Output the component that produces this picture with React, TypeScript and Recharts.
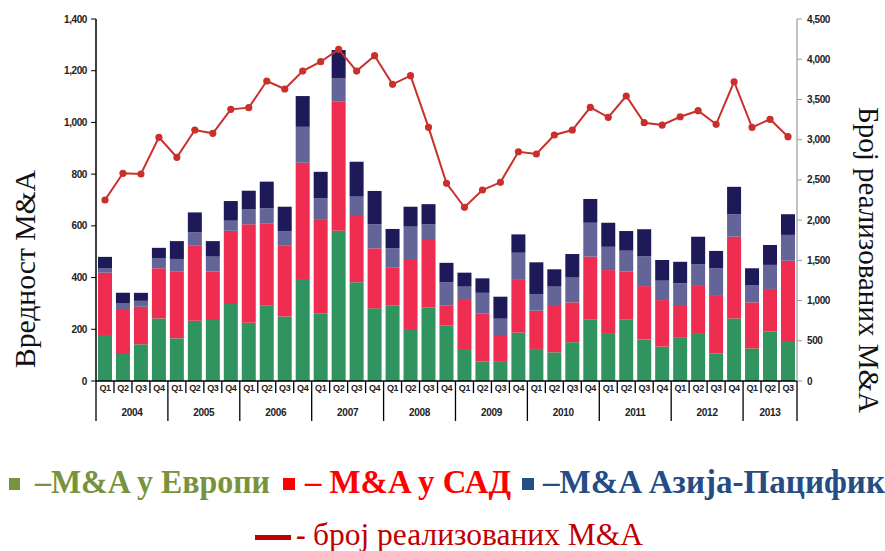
import React from "react";
import { Bar, ComposedChart, Line, XAxis, YAxis } from "recharts";

// 2004 Q1 .. 2013 Q3
const years = [
  "2004", "2004", "2004", "2004",
  "2005", "2005", "2005", "2005",
  "2006", "2006", "2006", "2006",
  "2007", "2007", "2007", "2007",
  "2008", "2008", "2008", "2008",
  "2009", "2009", "2009", "2009",
  "2010", "2010", "2010", "2010",
  "2011", "2011", "2011", "2011",
  "2012", "2012", "2012", "2012",
  "2013", "2013", "2013",
];
const quarters = [
  "Q1", "Q2", "Q3", "Q4", "Q1", "Q2", "Q3", "Q4", "Q1", "Q2", "Q3", "Q4",
  "Q1", "Q2", "Q3", "Q4", "Q1", "Q2", "Q3", "Q4", "Q1", "Q2", "Q3", "Q4",
  "Q1", "Q2", "Q3", "Q4", "Q1", "Q2", "Q3", "Q4", "Q1", "Q2", "Q3", "Q4",
  "Q1", "Q2", "Q3",
];

const europe = [
  178, 104, 142, 242, 165, 233, 236, 298, 225, 291, 249, 394, 262, 581, 382, 281,
  293, 201, 285, 214, 120, 75, 77, 187, 124, 111, 150, 239, 182, 239, 161, 133,
  167, 182, 107, 242, 126, 191, 155,
];
const usa = [
  241, 171, 145, 194, 258, 290, 187, 283, 381, 319, 274, 450, 361, 499, 256, 232,
  145, 267, 264, 79, 197, 187, 97, 204, 148, 179, 154, 242, 247, 184, 206, 180,
  127, 189, 222, 316, 178, 165, 310,
];
const other = [
  18, 25, 23, 38, 49, 52, 58, 39, 59, 58, 57, 139, 84, 90, 75, 93,
  75, 129, 57, 89, 48, 79, 67, 105, 64, 75, 96, 131, 90, 81, 116, 75,
  84, 80, 107, 87, 67, 93, 100,
];
const asiaPacific = [
  43, 41, 31, 41, 69, 77, 60, 76, 71, 103, 94, 119, 102, 110, 135, 129,
  75, 77, 78, 75, 54, 56, 85, 71, 123, 67, 91, 92, 93, 76, 104, 80,
  83, 107, 67, 106, 65, 77, 80,
];
const dealCount = [
  2250, 2582, 2573, 3029, 2781, 3120, 3079, 3377, 3398, 3729, 3630, 3853, 3969, 4123, 3853, 4044,
  3688, 3795, 3153, 2457, 2159, 2374, 2470, 2850, 2822, 3058, 3120, 3402, 3278, 3543, 3211, 3182,
  3285, 3360, 3191, 3720, 3153, 3253, 3037,
];

const leftTicks = [0, 200, 400, 600, 800, 1000, 1200, 1400];
const rightTicks = [0, 500, 1000, 1500, 2000, 2500, 3000, 3500, 4000, 4500];

const data = quarters.map((q, i) => ({
  key: `${years[i]} ${q}`,
  q,
  year: years[i],
  europe: europe[i],
  usa: usa[i],
  other: other[i],
  asiaPacific: asiaPacific[i],
  count: dealCount[i],
}));

const PLOT_W = 701;
const BAND = PLOT_W / data.length;

const fmt = (v: number) => v.toLocaleString("en-US");

const QuarterTick = (props: any) => {
  const { x, y, index } = props;
  const d = data[index];
  const left = x - BAND / 2;
  const first = data.findIndex((r) => r.year === d.year);
  const count = data.filter((r) => r.year === d.year).length;
  const yearX = x + ((count - 1) / 2) * BAND;
  const isLast = index === data.length - 1;
  return (
    <g>
      <line
        x1={left}
        x2={left}
        y1={y}
        y2={d.q === "Q1" ? y + 40 : y + 12}
        stroke="#000"
        strokeWidth={1.3}
      />
      {isLast && (
        <line x1={x + BAND / 2} x2={x + BAND / 2} y1={y} y2={y + 40} stroke="#000" strokeWidth={1.3} />
      )}
      <text
        x={x}
        y={y + 9.5}
        textAnchor="middle"
        fontFamily="Liberation Sans, Arial, sans-serif"
        fontWeight="bold"
        fontSize={9}
        letterSpacing={-0.4}
        fill="#222"
      >
        {d.q}
      </text>
      {index === first && (
        <text
          x={yearX}
          y={y + 35}
          textAnchor="middle"
          fontFamily="Liberation Sans, Arial, sans-serif"
          fontWeight="bold"
          fontSize={10}
          letterSpacing={-0.3}
          fill="#222"
        >
          {d.year}
        </text>
      )}
    </g>
  );
};

const tickStyle = {
  fontFamily: "Liberation Sans, Arial, sans-serif",
  fontWeight: "bold" as const,
  fontSize: 10,
  letterSpacing: -0.4,
  fill: "#222",
};

const serif = "Liberation Serif, 'Times New Roman', serif";

const App = () => {
  return (
    <div
      style={{
        position: "absolute",
        left: 0,
        top: 0,
        width: 885,
        height: 551,
        background: "#fff",
        overflow: "hidden",
      }}
    >
      <ComposedChart
        width={885}
        height={430}
        data={data}
        margin={{ top: 19, right: 28, left: 36, bottom: 0 }}
        barCategoryGap="11%"
      >
        <XAxis
          dataKey="key"
          interval={0}
          tickSize={0}
          tickMargin={0}
          height={49}
          tick={<QuarterTick />}
          tickLine={false}
          axisLine={{ stroke: "#000", strokeWidth: 1.5 }}
        />
        <YAxis
          yAxisId="left"
          width={60}
          domain={[0, 1400]}
          ticks={leftTicks}
          tickFormatter={fmt}
          tickSize={5}
          tickMargin={4}
          tick={tickStyle}
          tickLine={{ stroke: "#000" }}
          axisLine={{ stroke: "#000", strokeWidth: 1.5 }}
        />
        <YAxis
          yAxisId="right"
          orientation="right"
          width={60}
          domain={[0, 4500]}
          ticks={rightTicks}
          tickFormatter={fmt}
          tickSize={5}
          tickMargin={5}
          tick={{ ...tickStyle, textAnchor: "start" }}
          tickLine={{ stroke: "#999" }}
          axisLine={{ stroke: "#999", strokeWidth: 1.2 }}
        />
        <Bar yAxisId="left" dataKey="europe" stackId="a" fill="#309460" isAnimationActive={false} />
        <Bar yAxisId="left" dataKey="usa" stackId="a" fill="#ee2d50" isAnimationActive={false} />
        <Bar yAxisId="left" dataKey="other" stackId="a" fill="#636598" isAnimationActive={false} />
        <Bar yAxisId="left" dataKey="asiaPacific" stackId="a" fill="#1e1a5a" isAnimationActive={false} />
        <Line
          yAxisId="right"
          dataKey="count"
          stroke="#c9302c"
          strokeWidth={2}
          dot={{ r: 2.6, fill: "#c9302c", stroke: "#c9302c" }}
          isAnimationActive={false}
        />
      </ComposedChart>

      <svg
        width={885}
        height={551}
        style={{ position: "absolute", left: 0, top: 0, pointerEvents: "none" }}
      >
        <text
          transform="translate(35,269) rotate(-90)"
          textAnchor="middle"
          fontFamily={serif}
          fontSize={30}
          textLength={198}
          lengthAdjust="spacingAndGlyphs"
          fill="#111"
        >
          Вредност M&amp;A
        </text>
        <text
          transform="translate(859,260) rotate(90)"
          textAnchor="middle"
          fontFamily={serif}
          fontSize={30}
          textLength={306}
          lengthAdjust="spacingAndGlyphs"
          fill="#111"
        >
          Број реализованих M&amp;A
        </text>

        <rect x={9} y={478} width={11} height={12} fill="#77933c" />
        <text x={35} y={493} fontFamily={serif} fontWeight="bold" fontSize={33} fill="#77933c" textLength={235} lengthAdjust="spacingAndGlyphs">
          –M&amp;A у Европи
        </text>
        <rect x={283} y={478} width={12} height={12} fill="#ff0000" />
        <text x={305} y={493} fontFamily={serif} fontWeight="bold" fontSize={33} fill="#ff0000" textLength={206} lengthAdjust="spacingAndGlyphs">
          – M&amp;A у САД
        </text>
        <rect x={522} y={478} width={12} height={12} fill="#254c84" />
        <text x={543} y={493} fontFamily={serif} fontWeight="bold" fontSize={33} fill="#254c84" textLength={342} lengthAdjust="spacingAndGlyphs">
          –M&amp;A  Азија-Пацифик
        </text>

        <rect x={255} y={535} width={36} height={5} fill="#c00000" />
        <text x={296} y={545} fontFamily={serif} fontWeight="bold" fontSize={29} fill="#c00000">
          -
        </text>
        <text x={313} y={545} fontFamily={serif} fontSize={31} fill="#c00000" textLength={330} lengthAdjust="spacingAndGlyphs">
          број реализованих M&amp;A
        </text>
      </svg>
    </div>
  );
};

export default App;
